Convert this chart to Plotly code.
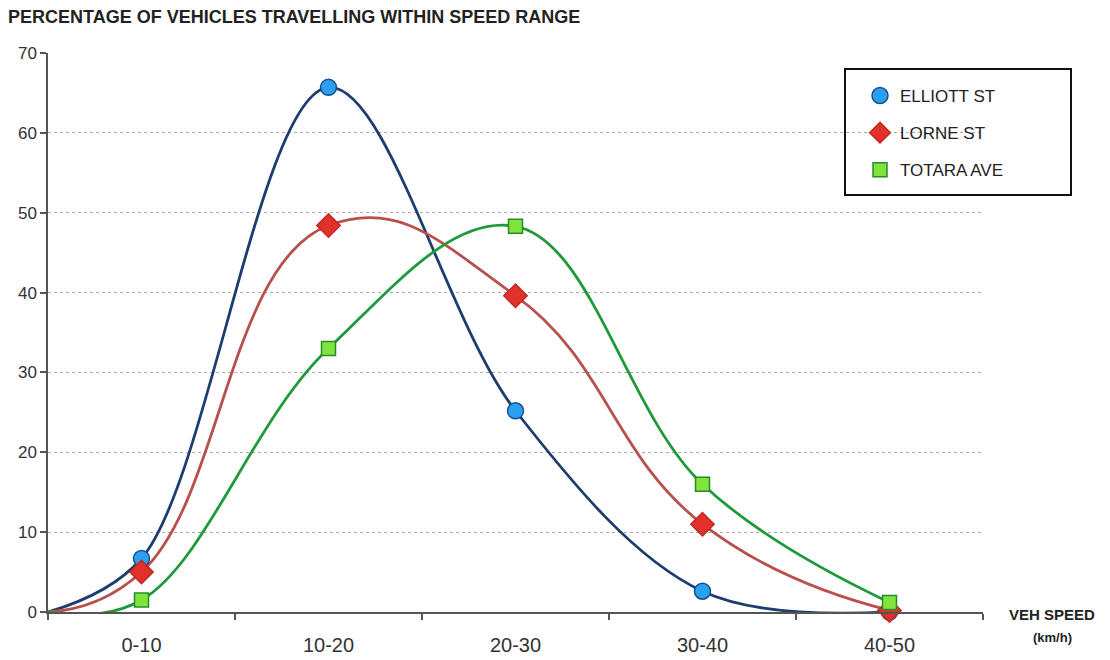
import plotly.graph_objects as go

categories = ["0-10", "10-20", "20-30", "30-40", "40-50"]
cat_pos = [0, 1, 2, 3, 4]
origin_x = -0.5
origin_y = 0

elliott = [6.7, 65.7, 25.2, 2.6, 0.0]
lorne = [5.0, 48.4, 39.6, 11.0, 0.2]
totara = [1.5, 33.0, 48.3, 16.0, 1.2]

y_ticks = [0, 10, 20, 30, 40, 50, 60, 70]

series = [
    ("ELLIOTT ST", elliott, "#1c3d6e", "circle", "#2aa0f0", "#1b4f8f", 16, 1.0),
    ("LORNE ST", lorne, "#b8504e", "diamond", "#e2302b", "#c02a25", 18, 1.3),
    ("TOTARA AVE", totara, "#1f9a3a", "square", "#80e43c", "#2a8a2a", 14, 1.1),
]

fig = go.Figure()
for name, vals, lc, sym, fill, edge, size, sm in series:
    fig.add_trace(go.Scatter(
        x=[origin_x] + cat_pos, y=[origin_y] + vals,
        mode="lines", line=dict(color=lc, width=2.8, shape="spline", smoothing=sm),
        showlegend=False, hoverinfo="skip", cliponaxis=False,
    ))
for name, vals, lc, sym, fill, edge, size, sm in series:
    fig.add_trace(go.Scatter(
        x=cat_pos, y=vals, mode="markers", name=name,
        marker=dict(symbol=sym, size=size, color=fill, line=dict(color=edge, width=1.5)),
        showlegend=False, cliponaxis=False,
    ))
for i, (name, vals, lc, sym, fill, edge, size, sm) in enumerate(series):
    fig.add_trace(go.Scatter(
        x=[None], y=[None], mode="markers", name=name, legendgroup=f"g{i}",
        marker=dict(symbol=sym, size=size, color=fill, line=dict(color=edge, width=1.5)),
    ))

L, R, T, B = 48, 127, 53, 48
pw = 1110 - L - R
ph = 660 - T - B

def px_x(p):
    return (p - L) / pw

def px_y(p):
    return (660 - B - p) / ph

fig.add_shape(type="rect", xref="paper", yref="paper",
              x0=px_x(845), x1=px_x(1071), y0=px_y(195), y1=px_y(69),
              line=dict(color="#111111", width=2), fillcolor="white", layer="between")

fig.update_layout(
    width=1110, height=660,
    margin=dict(l=L, r=R, t=T, b=B, autoexpand=False),
    paper_bgcolor="white", plot_bgcolor="white",
    font=dict(family="Liberation Sans, Arial, sans-serif", color="#222222"),
    title=dict(text="<b>PERCENTAGE OF VEHICLES TRAVELLING WITHIN SPEED RANGE</b>",
               xref="container", yref="container", x=8 / 1110, xanchor="left",
               y=1 - 17 / 660, yanchor="middle", font=dict(size=18, color="#222222")),
    xaxis=dict(range=[-0.5, 4.5], tickvals=cat_pos, ticktext=categories,
               ticks="", showgrid=False, zeroline=False, showline=True, automargin=False,
               linecolor="#555555", linewidth=1.5, ticklabelstandoff=14,
               tickfont=dict(size=20, color="#333333"),
               minor=dict(tick0=-0.5, dtick=1, ticks="outside", ticklen=6,
                          tickcolor="#555555", tickwidth=1.5, showgrid=False)),
    yaxis=dict(range=[0, 70], tickvals=y_ticks, ticks="outside", ticklen=6,
               tickcolor="#555555", tickwidth=1.5, showline=True, automargin=False,
               linecolor="#555555", linewidth=1.5, zeroline=False,
               showgrid=True, gridcolor="#aaaaaa", griddash="dot", gridwidth=1,
               tickfont=dict(size=17, color="#333333")),
    legend=dict(x=px_x(860), y=px_y(78), xanchor="left", yanchor="top",
                bgcolor="rgba(0,0,0,0)", borderwidth=0, tracegroupgap=12,
                font=dict(size=17, color="#222222")),
)

fig.add_annotation(xref="paper", yref="paper", x=px_x(1052), y=px_y(614),
                   text="<b>VEH SPEED</b>", showarrow=False,
                   font=dict(size=15, color="#222222"), xanchor="center", yanchor="middle")
fig.add_annotation(xref="paper", yref="paper", x=px_x(1052), y=px_y(637),
                   text="<b>(km/h)</b>", showarrow=False,
                   font=dict(size=13, color="#222222"), xanchor="center", yanchor="middle")

fig.write_html("out.html")
